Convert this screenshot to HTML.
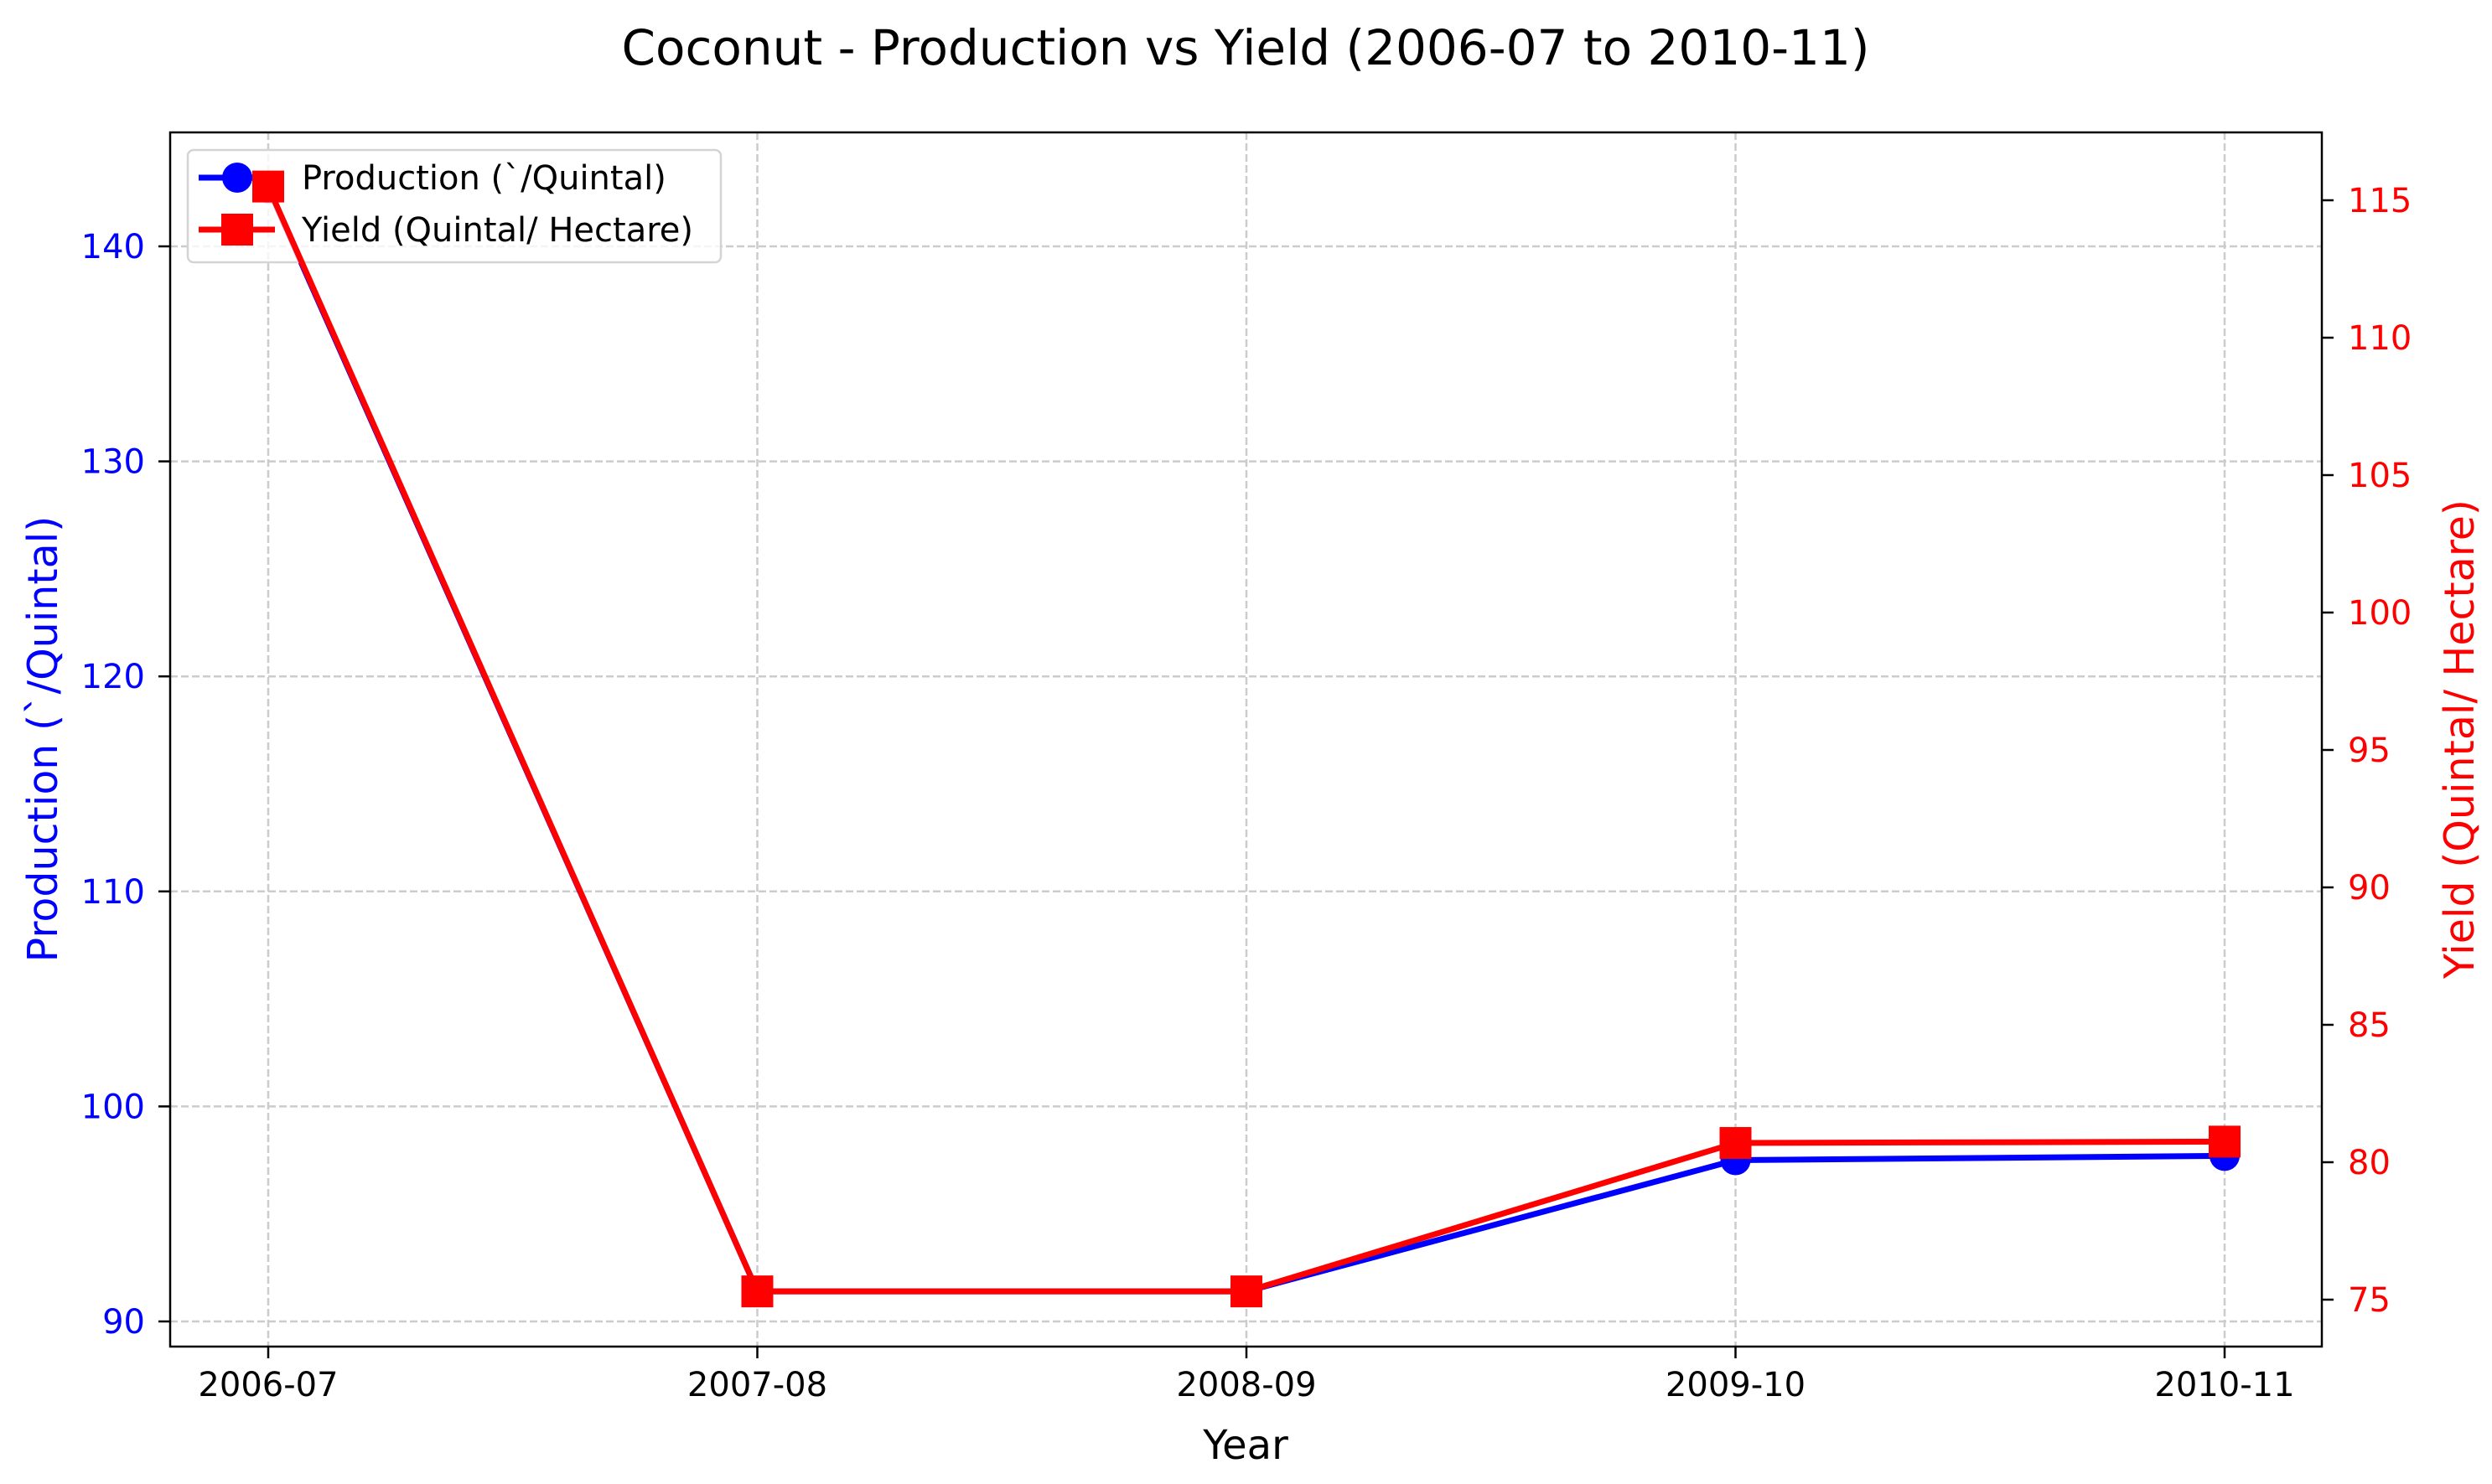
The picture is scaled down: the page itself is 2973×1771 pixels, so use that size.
<!DOCTYPE html>
<html><head><meta charset="utf-8"><style>
html,body{margin:0;padding:0;background:#fff}
svg{display:block;font-family:"DejaVu Sans","Liberation Sans",sans-serif}
</style></head><body>
<svg id="chart" width="2973" height="1771" viewBox="0 0 2973 1771">
<rect width="2973" height="1771" fill="#fff"/>
<text x="1486" y="77" font-size="58" text-anchor="middle">Coconut - Production vs Yield (2006-07 to 2010-11)</text>
<g id="grid"></g><g id="axes"></g><g id="series1"></g><g id="legend"></g><g id="series2"></g>
</svg>
<script>
const categories = ["2006-07","2007-08","2008-09","2009-10","2010-11"];
const production = [142.7, 91.4, 91.4, 97.5, 97.7];
const yieldVals = [115.5, 75.3, 75.3, 80.7, 80.75];
const leftTicks = [90,100,110,120,130,140];
const rightTicks = [75,80,85,90,95,100,105,110,115];

const NS="http://www.w3.org/2000/svg";
const L=203,R=2770,T=158,B=1607;
const xs=i=>320+i*(2654-320)/(categories.length-1);
const yL=v=>1577-(v-90)*25.66;
const yR=v=>1387-(v-80)*32.8;
function mk(tag,attrs,parent,txt){const e=document.createElementNS(NS,tag);for(const k in attrs)e.setAttribute(k,attrs[k]);if(txt!==undefined)e.textContent=txt;parent.appendChild(e);return e;}
const grid=document.getElementById('grid'),axes=document.getElementById('axes'),ser1=document.getElementById('series1'),ser2=document.getElementById('series2'),leg=document.getElementById('legend');
categories.forEach((c,i)=>{
  const g=mk('line',{x1:xs(i),x2:xs(i),y1:T,y2:B,stroke:'#cccccc','stroke-width':2.5,'stroke-dasharray':'9,4'},grid);
  
  
  mk('line',{x1:xs(i),x2:xs(i),y1:B,y2:B+14,stroke:'#000','stroke-width':2.5},axes);
  const t=mk('text',{x:xs(i),y:1666,'font-size':40,'text-anchor':'middle'},axes,c);
  
  
});
leftTicks.forEach(v=>{
  const g=mk('line',{x1:L,x2:R,y1:yL(v),y2:yL(v),stroke:'#cccccc','stroke-width':2.5,'stroke-dasharray':'9,4'},grid);
  
  
  mk('line',{x1:L-14,x2:L,y1:yL(v),y2:yL(v),stroke:'#000','stroke-width':2.5},axes);
  const t=mk('text',{x:173,y:yL(v)+14,'font-size':40,'text-anchor':'end',fill:'#0000ff'},axes,v);
  
  
});
rightTicks.forEach(v=>{
  mk('line',{x1:R,x2:R+14,y1:yR(v),y2:yR(v),stroke:'#000','stroke-width':2.5},axes);
  const t=mk('text',{x:2801,y:yR(v)+14,'font-size':40,fill:'#ff0000'},axes,v);
  
  
});
const frame=mk('rect',{x:L,y:T,width:R-L,height:B-T,fill:'none',stroke:'#000','stroke-width':2.5},axes);


let t1=mk('text',{x:1486,y:1741,'font-size':48,'text-anchor':'middle'},axes,'Year');


let t2=mk('text',{x:0,y:0,'font-size':49,'text-anchor':'middle',fill:'#0000ff',transform:'translate(68,882) rotate(-90)'},axes,'Production (`/Quintal)');


let t3=mk('text',{x:0,y:0,'font-size':49,'text-anchor':'middle',fill:'#ff0000',transform:'translate(2951,882) rotate(-90)'},axes,'Yield (Quintal/ Hectare)');



const pl=mk('polyline',{points:production.map((v,i)=>xs(i)+','+yL(v)).join(' '),fill:'none',stroke:'#0000ff','stroke-width':7,'stroke-linejoin':'round'},ser1);


production.forEach((v,i)=>{const c=mk('circle',{cx:xs(i),cy:yL(v),r:18,fill:'#0000ff'},ser1);
  
  });
const yl=mk('polyline',{points:yieldVals.map((v,i)=>xs(i)+','+yR(v)).join(' '),fill:'none',stroke:'#ff0000','stroke-width':7,'stroke-linejoin':'round'},ser2);


yieldVals.forEach((v,i)=>{const s=mk('rect',{x:xs(i)-19,y:yR(v)-19,width:38,height:38,fill:'#ff0000'},ser2);
  
  });

const lb=mk('rect',{x:224,y:179,width:636,height:134,rx:7,fill:'#fff','fill-opacity':0.8,stroke:'#d4d4d4','stroke-width':2.5},leg);


mk('line',{x1:237,x2:328,y1:212,y2:212,stroke:'#0000ff','stroke-width':7},leg);
mk('circle',{cx:283,cy:212,r:18,fill:'#0000ff'},leg);
let le1=mk('text',{x:360,y:226,'font-size':40},leg,'Production (`/Quintal)');


mk('line',{x1:237,x2:328,y1:274,y2:274,stroke:'#ff0000','stroke-width':7},leg);
mk('rect',{x:264,y:255,width:38,height:38,fill:'#ff0000'},leg);
let le2=mk('text',{x:360,y:288,'font-size':40},leg,'Yield (Quintal/ Hectare)');


</script>
</body></html>
